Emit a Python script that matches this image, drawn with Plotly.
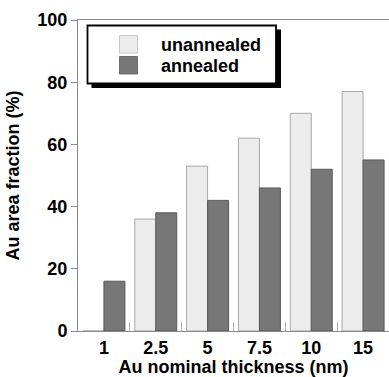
import plotly.graph_objects as go

categories = ["1", "2.5", "5", "7.5", "10", "15"]
unannealed = [0, 36, 53, 62, 70, 77]
annealed = [16, 38, 42, 46, 52, 55]
series_names = ["unannealed", "annealed"]
yticks = [0, 20, 40, 60, 80, 100]

FONT = "Liberation Sans, Arial, sans-serif"
light, light_line = "#ececec", "#a8a8a8"
dark, dark_line = "#777777", "#5a5a5a"

fig = go.Figure()
fig.add_bar(x=categories, y=unannealed, name=series_names[0], showlegend=False,
            marker=dict(color=light, line=dict(color=light_line, width=1)))
fig.add_bar(x=categories, y=annealed, name=series_names[1], showlegend=False,
            marker=dict(color=dark, line=dict(color=dark_line, width=1)))

W, H = 389, 377
L, R, T, B = 78, 0, 20, 46
pw, ph = W - L - R, H - T - B

def px(x, y):
    return (x - L) / pw, (H - B - y) / ph

def rect(xa, ya, xb, yb, **kw):
    x0, y0 = px(xa, ya)
    x1, y1 = px(xb, yb)
    fig.add_shape(type="rect", xref="paper", yref="paper", x0=x0, y0=y0, x1=x1, y1=y1,
                  layer="above", **kw)

# legend box with drop shadow
rect(91.5, 29.5, 281, 88, fillcolor="black", line=dict(width=0))
rect(87.5, 25.5, 276, 83.5, fillcolor="white", line=dict(color="black", width=1.8))
# legend swatches + labels
rect(119.5, 35.5, 137.5, 53, fillcolor=light, line=dict(color="#c8c8c8", width=1))
rect(119.5, 56.5, 137.5, 74, fillcolor=dark, line=dict(color="#6e6e6e", width=1))
for name, yc in zip(series_names, [45.5, 65.5]):
    ax, ay = px(159, yc)
    fig.add_annotation(x=ax, y=ay, xref="paper", yref="paper", text=name, showarrow=False,
                       xanchor="left", yanchor="middle",
                       font=dict(size=18, weight="bold", color="black"))

fig.update_layout(
    width=W, height=H,
    margin=dict(l=L, r=R, t=T, b=B, autoexpand=False),
    plot_bgcolor="white", paper_bgcolor="white",
    barmode="group", bargap=0.19, bargroupgap=0,
    font=dict(family=FONT, size=18, color="black", weight="bold"),
    showlegend=False,
    xaxis=dict(type="category", showline=True, linecolor="#8a8a8a", linewidth=1, mirror=True,
               ticks="inside", tickson="boundaries", ticklen=9, tickcolor="#b0b0b0",
               showgrid=False, range=[-0.5, 5.5],
               title=dict(text="Au nominal thickness (nm)", standoff=2,
                          font=dict(size=18, weight="bold")),
               tickfont=dict(size=18, weight="bold")),
    yaxis=dict(range=[0, 100], tickvals=yticks, showline=True, linecolor="#8a8a8a", linewidth=1,
               ticks="outside", ticklen=6, tickcolor="#8a8a8a", showgrid=False, zeroline=False,
               title=dict(text="Au area fraction (%)", standoff=13,
                          font=dict(size=18, weight="bold")),
               tickfont=dict(size=18, weight="bold")),
)
fig.write_html("out.html", config={"displayModeBar": False},
               post_script="document.body.style.margin='0';")
